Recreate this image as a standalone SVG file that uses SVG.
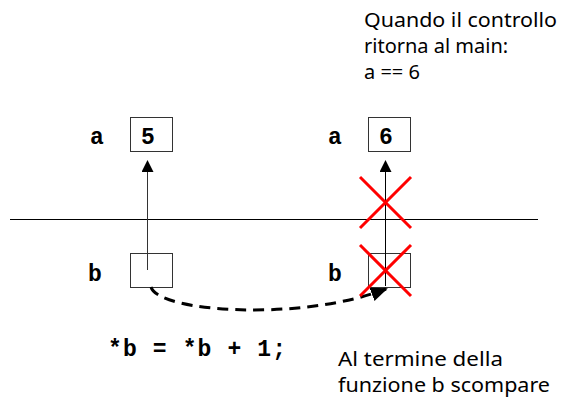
<svg xmlns="http://www.w3.org/2000/svg" width="564" height="400" viewBox="0 0 564 400">
  <defs>
    <marker id="ah" markerWidth="12" markerHeight="12" refX="10" refY="6" orient="auto" markerUnits="userSpaceOnUse">
      <path d="M0,0 L12,6 L0,12 Z" fill="#000"/>
    </marker>
    <marker id="ah2" markerWidth="17" markerHeight="14" refX="15" refY="7" orient="auto" markerUnits="userSpaceOnUse">
      <path d="M0,0 L17,7 L0,14 Z" fill="#000"/>
    </marker>
    <style>
      .box { fill: #fff; stroke: #333; stroke-width: 1; }
      .lbl { font-family: "Liberation Mono", "Courier New", monospace; font-weight: bold; font-size: 23px; fill: #000; }
      .note { font-family: "Noto Sans", "Open Sans", sans-serif; font-size: 20px; fill: #000; }
      .cross { stroke: #f00; stroke-width: 3; }
    </style>
  </defs>
  <rect width="564" height="400" fill="#fff"/>

  <line x1="10" y1="219.5" x2="538" y2="219.5" stroke="#000" stroke-width="1"/>

  <g id="a-left">
    <text class="lbl" x="90" y="144">a</text>
    <rect class="box" x="130.5" y="117.5" width="42" height="34"/>
    <text class="lbl" x="148" y="144" text-anchor="middle">5</text>
  </g>
  <g id="b-left">
    <text class="lbl" x="88" y="281">b</text>
    <rect class="box" x="130.5" y="253.5" width="42" height="34"/>
  </g>
  <g id="a-right">
    <text class="lbl" x="328" y="144">a</text>
    <rect class="box" x="368.5" y="117.5" width="42" height="34"/>
    <text class="lbl" x="386" y="144" text-anchor="middle">6</text>
  </g>
  <g id="b-right">
    <text class="lbl" x="328" y="281">b</text>
    <rect class="box" x="368.5" y="253.5" width="42" height="34"/>
  </g>

  <g id="connectors">
    <line x1="147.5" y1="270" x2="147.5" y2="162" stroke="#333" stroke-width="1" marker-end="url(#ah)"/>
    <line x1="385.5" y1="286" x2="385.5" y2="162" stroke="#000" stroke-width="1" marker-end="url(#ah)"/>
    <path d="M151,287 C158,312 300,322 386,289" fill="none" stroke="#000" stroke-width="3" stroke-dasharray="11,7" marker-end="url(#ah2)"/>
  </g>

  <g id="crosses">
    <line class="cross" x1="360" y1="177" x2="411" y2="228"/>
    <line class="cross" x1="411" y1="177" x2="360" y2="228"/>
    <line class="cross" x1="360" y1="245" x2="411" y2="296"/>
    <line class="cross" x1="411" y1="245" x2="360" y2="296"/>
  </g>

  <g id="code">
    <text class="lbl" x="108" y="356" textLength="178" lengthAdjust="spacing">*b = *b + 1;</text>
  </g>

  <g id="note-top">
    <text class="note" x="364" y="27" textLength="193" lengthAdjust="spacingAndGlyphs">Quando il controllo</text>
    <text class="note" x="364" y="53">ritorna al main:</text>
    <text class="note" x="364" y="79">a == 6</text>
  </g>
  <g id="note-bottom">
    <text class="note" x="338" y="366" textLength="165" lengthAdjust="spacingAndGlyphs">Al termine della</text>
    <text class="note" x="338" y="392" textLength="212" lengthAdjust="spacingAndGlyphs">funzione b scompare</text>
  </g>
</svg>
